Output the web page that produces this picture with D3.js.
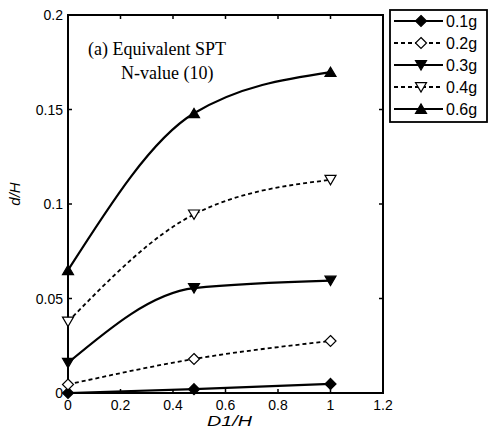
<!DOCTYPE html>
<html>
<head>
<meta charset="utf-8">
<script src="https://d3js.org/d3.v7.min.js"></script>
<style>
  body { margin: 0; background: #fff; }
  text { font-family: Arial, "Liberation Sans", sans-serif; fill: #000; }
</style>
</head>
<body>
<svg width="489" height="436"></svg>
<script>
const xs = [0, 0.48, 1];
const series = [
  { name: "0.1g", values: [0, 0.002, 0.0048], dashed: false, marker: "diamond", filled: true },
  { name: "0.2g", values: [0.0045, 0.018, 0.0275], dashed: true, marker: "diamond", filled: false },
  { name: "0.3g", values: [0.016, 0.0555, 0.0595], dashed: false, marker: "down", filled: true },
  { name: "0.4g", values: [0.0378, 0.0945, 0.1128], dashed: true, marker: "down", filled: false },
  { name: "0.6g", values: [0.065, 0.148, 0.1698], dashed: false, marker: "up", filled: true }
];
const xTicks = [0, 0.2, 0.4, 0.6, 0.8, 1, 1.2];
const yTicks = [0, 0.05, 0.1, 0.15, 0.2];

const svg = d3.select("svg");
const m = { left: 68, right: 383, top: 15, bottom: 393 };
const x = d3.scaleLinear().domain([0, 1.2]).range([m.left, m.right]);
const y = d3.scaleLinear().domain([0, 0.2]).range([m.bottom, m.top]);

// frame
svg.append("rect")
  .attr("x", m.left).attr("y", m.top)
  .attr("width", m.right - m.left).attr("height", m.bottom - m.top)
  .attr("fill", "none").attr("stroke", "#000").attr("stroke-width", 2);

// inward ticks on all four sides
const tl = 4;
xTicks.forEach(t => {
  svg.append("line").attr("x1", x(t)).attr("x2", x(t)).attr("y1", m.bottom).attr("y2", m.bottom - tl).attr("stroke", "#000").attr("stroke-width", 1.5);
  svg.append("line").attr("x1", x(t)).attr("x2", x(t)).attr("y1", m.top).attr("y2", m.top + tl).attr("stroke", "#000").attr("stroke-width", 1.5);
  svg.append("text").attr("x", x(t)).attr("y", m.bottom + 17)
    .attr("text-anchor", "middle").attr("font-size", 14).text(d3.format("~g")(t));
});
yTicks.forEach(t => {
  svg.append("line").attr("x1", m.left).attr("x2", m.left + tl).attr("y1", y(t)).attr("y2", y(t)).attr("stroke", "#000").attr("stroke-width", 1.5);
  svg.append("line").attr("x1", m.right).attr("x2", m.right - tl).attr("y1", y(t)).attr("y2", y(t)).attr("stroke", "#000").attr("stroke-width", 1.5);
  svg.append("text").attr("x", m.left - 5).attr("y", y(t) + 5)
    .attr("text-anchor", "end").attr("font-size", 14).text(d3.format("~g")(t));
});

// axis labels
svg.append("text").attr("x", 207).attr("y", 426)
  .attr("font-size", 15).attr("font-style", "italic")
  .attr("textLength", 45).attr("lengthAdjust", "spacingAndGlyphs").text("D1/H");
svg.append("text").attr("transform", "translate(20,194) rotate(-90)").attr("text-anchor", "middle")
  .attr("font-size", 15).attr("font-style", "italic").text("d/H");

// annotation
svg.append("text").attr("x", 88).attr("y", 55).attr("font-size", 18)
  .style("font-family", "'Liberation Serif', 'DejaVu Serif', serif").text("(a) Equivalent SPT");
svg.append("text").attr("x", 121).attr("y", 79).attr("font-size", 18)
  .style("font-family", "'Liberation Serif', 'DejaVu Serif', serif").text("N-value (10)");

function markerPath(type) {
  const s = 5.5;
  if (type === "diamond") return `M0,${-s}L${s},0L0,${s}L${-s},0Z`;
  if (type === "down") return `M${-s},${-s * 0.8}L${s},${-s * 0.8}L0,${s * 0.9}Z`;
  return `M${-s},${s * 0.8}L${s},${s * 0.8}L0,${-s * 0.9}Z`;
}

const line = d3.line().x(d => x(d[0])).y(d => y(d[1])).curve(d3.curveMonotoneX);

series.forEach(s => {
  const pts = xs.map((v, i) => [v, s.values[i]]);
  svg.append("path").attr("d", line(pts)).attr("fill", "none").attr("stroke", "#000")
    .attr("stroke-width", s.dashed ? 1.8 : 2.2)
    .attr("stroke-dasharray", s.dashed ? "4,3" : null);
  pts.forEach(p => {
    svg.append("path").attr("d", markerPath(s.marker))
      .attr("transform", `translate(${x(p[0])},${y(p[1])})`)
      .attr("fill", s.filled ? "#000" : "#fff").attr("stroke", "#000").attr("stroke-width", 1.2);
  });
});

// legend
const lg = svg.append("g");
lg.append("rect").attr("x", 390).attr("y", 10).attr("width", 97).attr("height", 112)
  .attr("fill", "#fff").attr("stroke", "#000").attr("stroke-width", 1.8);
series.forEach((s, i) => {
  const ly = 21 + i * 22;
  lg.append("line").attr("x1", 394).attr("x2", 443).attr("y1", ly).attr("y2", ly)
    .attr("stroke", "#000").attr("stroke-width", s.dashed ? 1.8 : 2.2)
    .attr("stroke-dasharray", s.dashed ? "4,3" : null);
  lg.append("path").attr("d", markerPath(s.marker)).attr("transform", `translate(421,${ly})`)
    .attr("fill", s.filled ? "#000" : "#fff").attr("stroke", "#000").attr("stroke-width", 1.2);
  lg.append("text").attr("x", 446).attr("y", ly + 6).attr("font-size", 16).text(s.name);
});
</script>
</body>
</html>
